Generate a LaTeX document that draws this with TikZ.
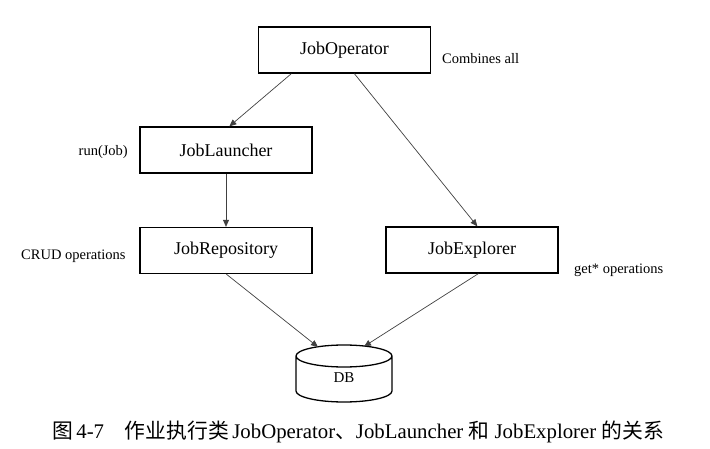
\documentclass[tikz,border=0pt]{standalone}
\usepackage{fontspec}
\setmainfont{Liberation Serif}
\newfontfamily\cjk{Noto Sans CJK SC}
\usetikzlibrary{arrows.meta}
\begin{document}
\begin{tikzpicture}[x=1pt,y=-1pt,
  box/.style={draw=black,line width=1.3pt,minimum width=172pt,minimum height=46pt,inner sep=0pt,font=\fontsize{18}{20}\selectfont},
  lbl/.style={inner sep=0pt,font=\fontsize{14.5}{16}\selectfont},
  arr/.style={draw=black!75,line width=0.7pt,-{Triangle[length=7pt,width=6pt]}}]
\useasboundingbox (0,0) rectangle (710,449);
\node[box] (op) at (344.5,50) {JobOperator};
\node[box] (la) at (226,150) {JobLauncher};
\node[box] (re) at (226,250.5) {JobRepository};
\node[box] (ex) at (472,250) {JobExplorer};
\node[lbl,anchor=west] (lc) at (442,59) {Combines all};
\node[lbl,anchor=east] (lr) at (128,152) {run(Job)};
\node[lbl,anchor=west] (lcr) at (21,256) {CRUD operations};
\node[lbl,anchor=west] (lg) at (574,270) {get* operations};
% DB cylinder
\draw[line width=1.3pt] (296,356) arc[start angle=180,end angle=-180,x radius=48,y radius=11]
  (296,356) -- (296,391) arc[start angle=180,end angle=0,x radius=48,y radius=11] -- (392,356);
\node[lbl,font=\fontsize{15}{16}\selectfont] (db) at (344,378) {DB};
\coordinate (dbL) at (318,347);
\coordinate (dbR) at (364,346.5);
\draw[arr] ([xshift=33.5]op.south west) -- ([xshift=90]la.north west);
\draw[arr] ([xshift=96.5]op.south west) -- ([xshift=92]ex.north west);
\draw[arr] (la.south) -- (re.north);
\draw[arr] ([xshift=87]re.south west) -- (dbL);
\draw[arr] ([xshift=93]ex.south west) -- (dbR);
\node[inner sep=0pt,font=\fontsize{20.8}{23}\selectfont] (cap) at (358,432)
  {{\cjk 图}\,4-7\hspace{1em}{\cjk 作业执行类}\,JobOperator{\cjk 、}JobLauncher {\cjk 和} JobExplorer {\cjk 的关系}};
\end{tikzpicture}
\end{document}
